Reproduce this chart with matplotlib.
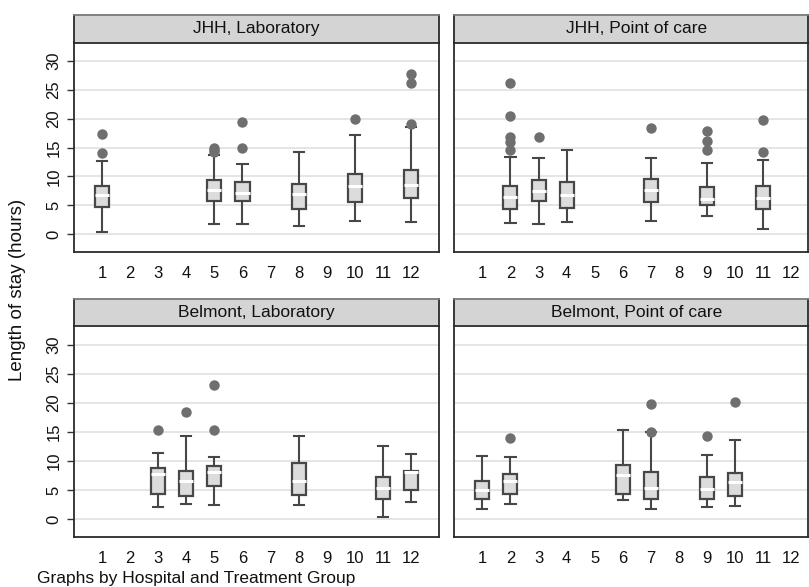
import matplotlib
matplotlib.use('Agg')
import matplotlib.pyplot as plt

plt.rcParams['font.family'] = ['Liberation Sans', 'DejaVu Sans']

panel_titles = ["JHH, Laboratory", "JHH, Point of care",
                "Belmont, Laboratory", "Belmont, Point of care"]
x_ticks = list(range(1, 13))
y_ticks = [0, 5, 10, 15, 20, 25, 30]

# JHH, Laboratory
jl_groups = [1, 5, 6, 8, 10, 12]
jl_whislo = [0.4, 1.8, 1.8, 1.4, 2.3, 2.1]
jl_q1 = [4.7, 5.8, 5.8, 4.3, 5.5, 6.2]
jl_med = [6.7, 7.7, 7.1, 7.0, 8.3, 8.5]
jl_q3 = [8.4, 9.3, 9.1, 8.7, 10.5, 11.1]
jl_whishi = [12.7, 13.7, 12.1, 14.3, 17.1, 18.5]
jl_out = [[14.1, 17.4], [14.3, 14.6, 15.0], [15.0, 19.4], [], [20.0], [19.1, 26.1, 27.8]]

# JHH, Point of care
jp_groups = [2, 3, 4, 7, 9, 11]
jp_whislo = [2.0, 1.8, 2.1, 2.3, 3.2, 0.8]
jp_q1 = [4.4, 5.8, 4.6, 5.6, 5.0, 4.4]
jp_med = [6.5, 7.5, 6.8, 7.6, 6.1, 6.2]
jp_q3 = [8.3, 9.3, 9.1, 9.5, 8.1, 8.3]
jp_whishi = [13.4, 13.2, 14.6, 13.2, 12.3, 12.9]
jp_out = [[14.6, 15.9, 16.9, 20.5, 26.1], [16.9], [], [18.3], [14.5, 16.1, 17.9], [14.3, 19.7]]

# Belmont, Laboratory
bl_groups = [3, 4, 5, 8, 11, 12]
bl_whislo = [2.0, 2.6, 2.4, 2.4, 0.3, 2.9]
bl_q1 = [4.3, 3.9, 5.7, 4.2, 3.5, 5.0]
bl_med = [7.7, 6.6, 8.0, 6.6, 5.4, 8.0]
bl_q3 = [8.7, 8.3, 9.2, 9.7, 7.3, 8.3]
bl_whishi = [11.3, 14.3, 10.6, 14.3, 12.5, 11.1]
bl_out = [[15.3], [18.4], [15.3, 23.0], [], [], []]

# Belmont, Point of care
bp_groups = [1, 2, 6, 7, 9, 10]
bp_whislo = [1.7, 2.5, 3.2, 1.8, 2.0, 2.2]
bp_q1 = [3.5, 4.3, 4.3, 3.5, 3.5, 3.9]
bp_med = [5.0, 6.6, 7.5, 5.3, 5.1, 6.4]
bp_q3 = [6.6, 7.7, 9.3, 8.1, 7.3, 7.9]
bp_whishi = [10.8, 10.7, 15.3, 14.9, 11.0, 13.6]
bp_out = [[], [14.0], [], [15.0, 19.7], [14.3], [20.1]]

panels = [
    (jl_groups, jl_whislo, jl_q1, jl_med, jl_q3, jl_whishi, jl_out),
    (jp_groups, jp_whislo, jp_q1, jp_med, jp_q3, jp_whishi, jp_out),
    (bl_groups, bl_whislo, bl_q1, bl_med, bl_q3, bl_whishi, bl_out),
    (bp_groups, bp_whislo, bp_q1, bp_med, bp_q3, bp_whishi, bp_out),
]

W, H = 809, 587
fig = plt.figure(figsize=(W / 100, H / 100), dpi=100)
fig.patch.set_facecolor('white')

px = 28.08  # pixels per category unit
# (left, right, top, bottom) in pixels for plot areas
boxes_px = [
    (74, 439.3, 42.5, 252),
    (454.3, 808.3, 42.5, 252),
    (74, 439.3, 326, 537),
    (454.3, 808.3, 326, 537),
]
strip_h = 27.5

edge_col = '#474747'
fill_col = '#dcdcdc'
out_col = '#6f6f6f'
grid_col = '#e3e3e3'
strip_col = '#d4d4d4'

for i, (pdata, (l, r, t, b)) in enumerate(zip(panels, boxes_px)):
    groups, wlo, q1, med, q3, whi, outl = pdata
    ax = fig.add_axes([l / W, 1 - b / H, (r - l) / W, (b - t) / H])
    stats = []
    for k in range(len(groups)):
        stats.append(dict(whislo=wlo[k], q1=q1[k], med=med[k], q3=q3[k],
                          whishi=whi[k], fliers=outl[k]))
    ax.bxp(stats, positions=groups, widths=0.5, capwidths=0.36,
           patch_artist=True, manage_ticks=False,
           boxprops=dict(facecolor=fill_col, edgecolor=edge_col, linewidth=1.6),
           medianprops=dict(color='white', linewidth=2.2),
           whiskerprops=dict(color=edge_col, linewidth=1.5),
           capprops=dict(color=edge_col, linewidth=1.5),
           flierprops=dict(marker='o', markerfacecolor=out_col,
                           markeredgecolor='none', markersize=7.5))
    ax.set_xlim(0, (r - l) / px)
    ax.set_ylim(-3.1, 33.2)
    ax.set_xticks(x_ticks)
    ax.set_xticklabels([str(v) for v in x_ticks], fontsize=12, color='#111111')
    ax.tick_params(axis='x', length=0, pad=10)
    ax.set_yticks(y_ticks)
    if i % 2 == 0:
        ax.set_yticklabels([str(v) for v in y_ticks], rotation=90, va='center',
                           fontsize=12, color='#111111')
        ax.tick_params(axis='y', length=5, width=1, color='#333333', pad=4)
    else:
        ax.set_yticklabels([])
        ax.tick_params(axis='y', length=0)
    ax.yaxis.grid(True, color=grid_col, linewidth=1.3)
    ax.set_axisbelow(True)
    for s in ['left', 'right', 'bottom']:
        ax.spines[s].set_color('#2b2b2b')
        ax.spines[s].set_linewidth(1.3)
    ax.spines['top'].set_visible(False)

    # strip
    sax = fig.add_axes([l / W, 1 - t / H, (r - l) / W, strip_h / H])
    sax.set_facecolor(strip_col)
    sax.set_xticks([])
    sax.set_yticks([])
    sax.spines['top'].set_color('#7a7a7a')
    sax.spines['bottom'].set_color('#2b2b2b')
    sax.spines['left'].set_color('#2b2b2b')
    sax.spines['right'].set_color('#2b2b2b')
    for s in sax.spines.values():
        s.set_linewidth(1.3)
    cx = 0.5 if i % 2 == 0 else (365.3 / 2) / (r - l)
    sax.text(cx, 0.5, panel_titles[i], ha='center', va='center',
             fontsize=12.5, color='#111111', transform=sax.transAxes)

fig.text(18 / W, 1 - 290 / H, "Length of stay (hours)", rotation=90,
         ha='center', va='center', fontsize=13.5, color='#111111')
fig.text(37 / W, 1 - 578 / H, "Graphs by Hospital and Treatment Group",
         ha='left', va='center', fontsize=12.5, color='#111111')

fig.savefig('out.png', dpi=100)
